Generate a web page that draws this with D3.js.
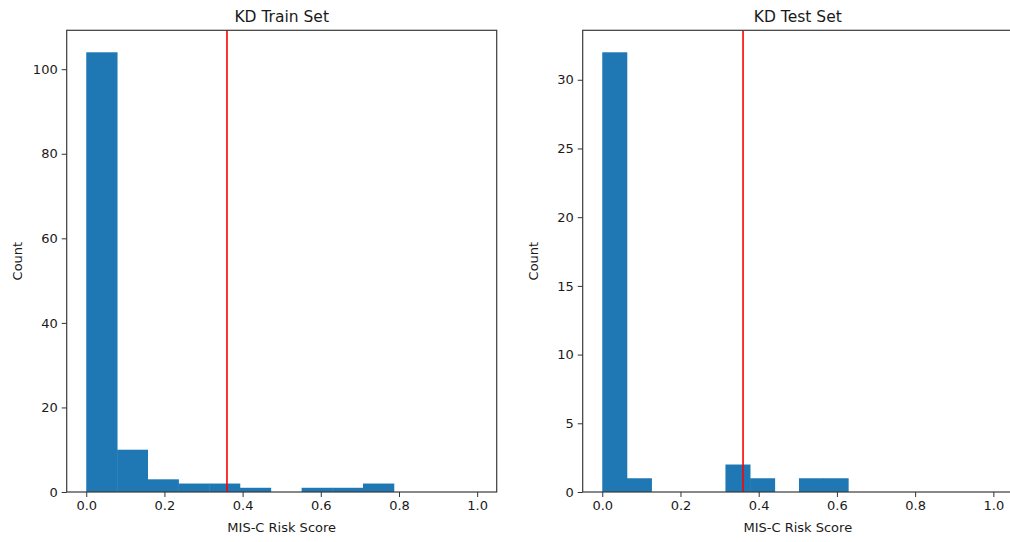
<!DOCTYPE html>
<html>
<head>
<meta charset="utf-8">
<script src="https://cdn.jsdelivr.net/npm/d3@7"></script>
<style>
  body { margin: 0; background: #fff; }
  svg { display: block; }
  text { font-family: "DejaVu Sans", sans-serif; fill: #1a1a1a; }
</style>
</head>
<body>
<div id="chart"></div>
<script>
// histogram bins
const trainEdges = [0, 0.079, 0.157, 0.236, 0.315, 0.393, 0.472, 0.551, 0.629, 0.708, 0.787];
const trainCounts = [104, 10, 3, 2, 2, 1, 0, 1, 1, 2];
const testEdges = [0, 0.063, 0.126, 0.189, 0.252, 0.315, 0.378, 0.441, 0.503, 0.566, 0.629];
const testCounts = [32, 1, 0, 0, 0, 2, 1, 0, 1, 1];
const threshold = 0.36;
const xTicks = [0, 0.2, 0.4, 0.6, 0.8, 1.0];
const trainYTicks = [0, 20, 40, 60, 80, 100];
const testYTicks = [0, 5, 10, 15, 20, 25, 30];

const width = 1010, height = 542;
const svg = d3.select('#chart').append('svg')
    .attr('width', width)
    .attr('height', height);

function drawPanel(opts) {
  const x = d3.scaleLinear().domain([-0.05, 1.05]).range([opts.left, opts.right]);
  const ymax = d3.max(opts.counts) * 1.05;
  const y = d3.scaleLinear().domain([0, ymax]).range([opts.bottom, opts.top]);
  const g = svg.append('g');

  // bars
  const bins = opts.counts.map((c, i) => ({x0: opts.edges[i], x1: opts.edges[i + 1], c: c}));
  g.selectAll('rect.bar')
    .data(bins.filter(d => d.c > 0))
    .enter().append('rect')
      .attr('class', 'bar')
      .attr('x', d => x(d.x0))
      .attr('width', d => x(d.x1) - x(d.x0) + 0.4)
      .attr('y', d => y(d.c))
      .attr('height', d => y(0) - y(d.c))
      .attr('fill', '#1f77b4');

  // threshold line
  g.append('line')
      .attr('x1', x(threshold)).attr('x2', x(threshold))
      .attr('y1', opts.top).attr('y2', opts.bottom)
      .attr('stroke', '#ff0000')
      .attr('stroke-width', 1.6);

  // frame
  g.append('rect')
      .attr('x', opts.left).attr('y', opts.top)
      .attr('width', opts.right - opts.left)
      .attr('height', opts.bottom - opts.top)
      .attr('fill', 'none')
      .attr('stroke', '#3a3a3a')
      .attr('stroke-width', 1.2);

  // axes
  const xAxis = g.append('g')
      .attr('transform', 'translate(0,' + opts.bottom + ')')
      .call(d3.axisBottom(x).tickValues(xTicks).tickFormat(d3.format('.1f')).tickSize(5).tickPadding(4));
  const yAxis = g.append('g')
      .attr('transform', 'translate(' + opts.left + ',0)')
      .call(d3.axisLeft(y).tickValues(opts.yTicks).tickSize(5).tickPadding(4));
  [xAxis, yAxis].forEach(a => {
    a.select('.domain').remove();
    a.selectAll('.tick line').attr('stroke', '#333');
    a.selectAll('.tick text')
      .style('font-size', '13px')
      .style('font-family', '"DejaVu Sans", sans-serif')
      .attr('fill', '#1a1a1a');
  });

  // titles and labels
  g.append('text')
      .attr('x', (opts.left + opts.right) / 2)
      .attr('y', 22)
      .attr('text-anchor', 'middle')
      .style('font-size', '15.5px')
      .text(opts.title);
  g.append('text')
      .attr('x', (opts.left + opts.right) / 2)
      .attr('y', 532)
      .attr('text-anchor', 'middle')
      .style('font-size', '13px')
      .text('MIS-C Risk Score');
  g.append('text')
      .attr('transform', 'translate(' + (opts.left - 45) + ',' + ((opts.top + opts.bottom) / 2) + ') rotate(-90)')
      .attr('text-anchor', 'middle')
      .style('font-size', '13px')
      .text('Count');
}

drawPanel({
  left: 66.7, right: 496.7, top: 30.3, bottom: 492,
  edges: trainEdges, counts: trainCounts, yTicks: trainYTicks, title: 'KD Train Set'
});
drawPanel({
  left: 582.7, right: 1012.9, top: 30.3, bottom: 492,
  edges: testEdges, counts: testCounts, yTicks: testYTicks, title: 'KD Test Set'
});
</script>
</body>
</html>
